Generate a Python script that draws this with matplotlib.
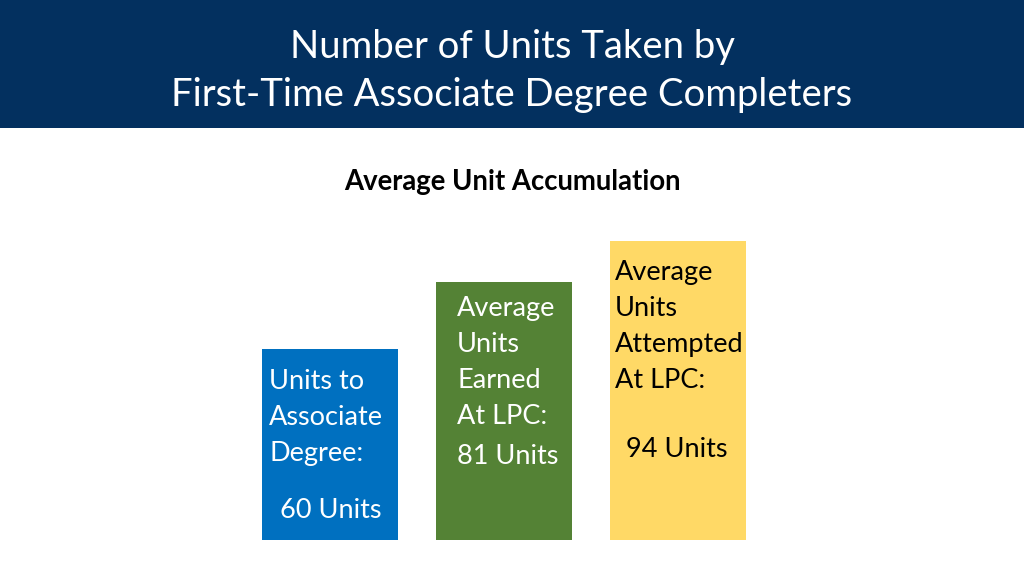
import matplotlib
matplotlib.use("Agg")
import matplotlib.pyplot as plt
from matplotlib.patches import Rectangle

title = "Number of Units Taken by\nFirst-Time Associate Degree Completers"
subtitle = "Average Unit Accumulation"
labels = ["Units to\nAssociate\nDegree:",
          "Average\nUnits\nEarned\nAt LPC:",
          "Average\nUnits\nAttempted\nAt LPC:"]
values = [60, 81, 94]
value_texts = ["60 Units", "81 Units", "94 Units"]
colors = ["#0070C0", "#548235", "#FFD966"]
text_colors = ["white", "white", "black"]

FONT = ["Lato", "DejaVu Sans"]
plt.rcParams["font.family"] = FONT

W, H = 1024, 576
fig = plt.figure(figsize=(W / 100, H / 100), dpi=100)
fig.patch.set_facecolor("white")

# title banner
fig.patches.append(Rectangle((0, 1 - 128 / H), 1, 128 / H, transform=fig.transFigure,
                             facecolor="#03305F", edgecolor="none", zorder=0))
fig.text(0.5, 1 - 71 / H, title, ha="center", va="center", color="white",
         fontsize=27.5, linespacing=1.41)
fig.text(0.5, 1 - 182 / H, subtitle, ha="center", va="center", color="black",
         fontsize=19.8, fontweight="bold")

# bars
ax = fig.add_axes([243 / W, 36 / H, 522 / W, 318 / H])
x = list(range(len(values)))
bw = 136 / 174
bars = ax.bar(x, values, width=bw, color=colors, edgecolor="none")
ax.set_xlim(-0.5, len(values) - 0.5)
ax.set_ylim(0, 100)
ax.axis("off")

label_dx = [7, 21, 5]          # px from bar left edge
label_dy = [-20, -14, -19]      # px from bar top to top of first line
value_dy = [-161, -174, -208]   # px from bar top to center of value text
value_dx = [1, 4, -1]
for i, b in enumerate(bars):
    left = b.get_x()
    top = b.get_height()
    cx = b.get_x() + b.get_width() / 2
    ax.annotate(labels[i], xy=(left, top), xycoords="data",
                xytext=(label_dx[i], label_dy[i]), textcoords="offset pixels",
                ha="left", va="top", color=text_colors[i], fontsize=19.5,
                linespacing=1.55)
    ax.annotate(value_texts[i], xy=(cx, top), xycoords="data",
                xytext=(value_dx[i], value_dy[i]), textcoords="offset pixels",
                ha="center", va="center", color=text_colors[i], fontsize=19.5)

fig.savefig("out.png", dpi=100)
